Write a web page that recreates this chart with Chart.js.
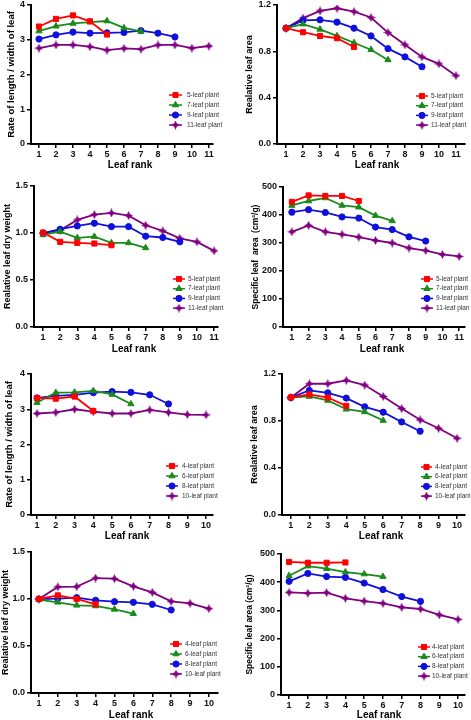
<!DOCTYPE html>
<html>
<head>
<meta charset="utf-8">
<script src="https://cdn.jsdelivr.net/npm/chart.js@4.4.0/dist/chart.umd.min.js"></script>
<style>
	html, body { margin: 0; padding: 0; background: #fff; width: 471px; height: 720px; overflow: hidden; }
	canvas { position: absolute; }
</style>
</head>
<body>
<script>
var ranksA = [1, 2, 3, 4, 5, 6, 7, 8, 9, 10, 11];
var ranksB = [1, 2, 3, 4, 5, 6, 7, 8, 9, 10];
var plantsA = ['5-leaf plant', '7-leaf plant', '9-leaf plant', '11-leaf plant'];
var plantsB = ['4-leaf plant', '6-leaf plant', '8-leaf plant', '10-leaf plant'];

var ratioTicks = [0, 1, 2, 3, 4];
var areaTicks = [0, 0.4, 0.8, 1.2];
var weightTicks = [0, 0.5, 1.0, 1.5];
var slaTicks = [0, 100, 200, 300, 400, 500];

// length/width ratio
var ratioA5 = [3.38, 3.60, 3.70, 3.53, 3.15];
var ratioA7 = [3.25, 3.39, 3.47, 3.51, 3.54, 3.34, 3.24];
var ratioA9 = [3.02, 3.14, 3.22, 3.19, 3.20, 3.21, 3.26, 3.19, 3.08];
var ratioA11 = [2.76, 2.85, 2.85, 2.80, 2.70, 2.75, 2.73, 2.85, 2.85, 2.76, 2.82];
var ratioB4 = [3.32, 3.30, 3.36, 2.95];
var ratioB6 = [3.19, 3.47, 3.48, 3.52, 3.42, 3.15];
var ratioB8 = [3.32, 3.38, 3.41, 3.47, 3.50, 3.48, 3.41, 3.15];
var ratioB10 = [2.88, 2.91, 3.00, 2.93, 2.88, 2.88, 2.98, 2.91, 2.85, 2.84];

// relative leaf area
var areaA5 = [1.00, 0.965, 0.933, 0.913, 0.837];
var areaA7 = [1.00, 1.035, 0.99, 0.933, 0.874, 0.814, 0.726];
var areaA9 = [1.00, 1.067, 1.072, 1.052, 1.00, 0.933, 0.823, 0.752, 0.667];
var areaA11 = [1.00, 1.087, 1.149, 1.172, 1.143, 1.092, 0.962, 0.857, 0.752, 0.692, 0.59];
var areaB4 = [1.00, 1.026, 1.00, 0.929];
var areaB6 = [1.00, 1.009, 0.975, 0.90, 0.878, 0.804];
var areaB8 = [1.00, 1.06, 1.04, 0.995, 0.921, 0.875, 0.792, 0.713];
var areaB10 = [1.00, 1.117, 1.117, 1.146, 1.106, 1.009, 0.906, 0.81, 0.738, 0.653];

// relative leaf dry weight
var weightA5 = [1.005, 0.906, 0.895, 0.888, 0.87];
var weightA7 = [0.983, 1.015, 0.948, 0.962, 0.895, 0.895, 0.842];
var weightA9 = [0.998, 1.04, 1.075, 1.104, 1.068, 1.068, 0.966, 0.952, 0.906];
var weightA11 = [0.998, 1.03, 1.139, 1.196, 1.213, 1.185, 1.082, 1.022, 0.944, 0.906, 0.81];
var weightB4 = [1.00, 1.039, 1.00, 0.943];
var weightB6 = [0.993, 0.965, 0.933, 0.926, 0.89, 0.844];
var weightB8 = [1.00, 1.004, 1.014, 0.986, 0.972, 0.965, 0.943, 0.883];
var weightB10 = [1.00, 1.128, 1.131, 1.223, 1.216, 1.135, 1.071, 0.975, 0.954, 0.897];

// specific leaf area
var slaA5 = [447, 470, 468, 468, 450];
var slaA7 = [434, 450, 461, 434, 428, 398, 379];
var slaA9 = [410, 419, 409, 393, 389, 357, 348, 322, 307];
var slaA11 = [340, 363, 340, 331, 321, 309, 300, 282, 273, 259, 252];
var slaB4 = [472, 469, 469, 470];
var slaB6 = [423, 457, 448, 436, 429, 420];
var slaB8 = [403, 431, 420, 417, 397, 374, 349, 332];
var slaB10 = [364, 361, 363, 343, 333, 325, 311, 305, 284, 268];

var FONT = '"Liberation Sans", Arial, sans-serif';
var colors = ['#ff0000', '#1a8a1a', '#1010dc', '#800080'];

function starMarker(color){
	var c = document.createElement('canvas');
	c.width = 9; c.height = 9;
	var ctx = c.getContext('2d');
	ctx.fillStyle = color;
	ctx.beginPath();
	ctx.moveTo(4.5, 0); ctx.lineTo(6, 3); ctx.lineTo(9, 4.5); ctx.lineTo(6, 6);
	ctx.lineTo(4.5, 9); ctx.lineTo(3, 6); ctx.lineTo(0, 4.5); ctx.lineTo(3, 3);
	ctx.closePath();
	ctx.fill();
	return c;
}

var styles = ['rect', 'triangle', 'circle', starMarker(colors[3])];
var radii = [3.6, 3.6, 3.1, 3];

// page geometry of every panel: canvas corner, plot box, x range, title and legend spots
var panels = [
	{ left: 0, top: 0, box: [31, 213, 3, 144], x: [0.53, 11.24], ranks: ranksA, names: plantsA, series: [ratioA5, ratioA7, ratioA9, ratioA11],
		yTicks: ratioTicks, digits: 0, yTitle: 'Rate of length / width of leaf', yFont: 9.5, yPad: 5.3, xTitle: [130, 165], legend: [169, 182, 187, 95, 10] },
	{ left: 235, top: 0, box: [277, 465, 3, 144], x: [0.47, 11.53], ranks: ranksA, names: plantsA, series: [areaA5, areaA7, areaA9, areaA11],
		yTicks: areaTicks, digits: 1, yTitle: 'Realative leaf area', yFont: 9, yPad: 9.6, xTitle: [377, 165], legend: [416, 428, 431, 96, 9.7] },
	{ left: 0, top: 180, box: [34, 218, 186, 327], x: [0.47, 11.23], ranks: ranksA, names: plantsA, series: [weightA5, weightA7, weightA9, weightA11],
		yTicks: weightTicks, digits: 1, yTitle: 'Realative leaf dry weight', yFont: 9, yPad: 2.6, xTitle: [134, 349], legend: [173, 185, 188, 279, 9.7] },
	{ left: 235, top: 180, box: [283, 468, 187, 327], x: [0.47, 11.35], ranks: ranksA, names: plantsA, series: [slaA5, slaA7, slaA9, slaA11],
		yTicks: slaTicks, digits: 0, yTitle: 'Specific leaf  area  (cm\u00b2/g)', yFont: 8.5, yPad: 15.9, xTitle: [382, 349], legend: [421, 433, 436, 279, 9.7] },
	{ left: 0, top: 360, box: [31, 213, 374, 515], x: [0.68, 10.37], ranks: ranksB, names: plantsB, series: [ratioB4, ratioB6, ratioB8, ratioB10],
		yTicks: ratioTicks, digits: 0, yTitle: 'Rate of length / width of leaf', yFont: 9.5, yPad: 3.3, xTitle: [127, 536], legend: [166, 178, 182, 466, 10] },
	{ left: 235, top: 360, box: [282, 468, 374, 515], x: [0.52, 10.43], ranks: ranksB, names: plantsB, series: [areaB4, areaB6, areaB8, areaB10],
		yTicks: areaTicks, digits: 1, yTitle: 'Realative leaf area', yFont: 9, yPad: 14.6, xTitle: [381, 536], legend: [421, 432, 435, 467, 9.7] },
	{ left: 0, top: 540, box: [31, 218, 552, 693], x: [0.58, 10.48], ranks: ranksB, names: plantsB, series: [weightB4, weightB6, weightB8, weightB10],
		yTicks: weightTicks, digits: 1, yTitle: 'Realative leaf dry weight', yFont: 9, yPad: 0, xTitle: [131, 715], legend: [170, 182, 185, 644, 10] },
	{ left: 235, top: 540, box: [281, 465, 554, 695], x: [0.57, 10.37], ranks: ranksB, names: plantsB, series: [slaB4, slaB6, slaB8, slaB10],
		yTicks: slaTicks, digits: 0, yTitle: 'Specific leaf area (cm\u00b2/g)', yFont: 8.5, yPad: 9.9, xTitle: [379, 715], legend: [418, 430, 432, 647, 9.7] }
];

var W = 235, H = 200;

function makeOverlay(p){
	return {
		id: 'overlay',
		afterDraw: function(chart){
			var ctx = chart.ctx;
			var lg = p.legend;
			ctx.save();
			ctx.font = 'bold 10px ' + FONT;
			ctx.fillStyle = '#000';
			ctx.textAlign = 'center';
			ctx.textBaseline = 'middle';
			ctx.fillText('Leaf rank', p.xTitle[0] - p.left, p.xTitle[1] - p.top);

			chart.data.datasets.forEach(function(ds, i){
				var y = lg[3] + i * lg[4] - p.top;
				ctx.strokeStyle = ds.borderColor;
				ctx.fillStyle = ds.borderColor;
				ctx.lineWidth = 1.5;
				ctx.beginPath();
				ctx.moveTo(lg[0] - p.left, y);
				ctx.lineTo(lg[1] - p.left, y);
				ctx.stroke();
				ctx.lineWidth = 1;
				Chart.helpers.drawPoint(ctx, { pointStyle: ds.pointStyle, radius: ds.pointRadius, borderWidth: 1, rotation: 0 }, (lg[0] + lg[1]) / 2 - p.left, y);
				ctx.fillStyle = '#333';
				ctx.font = '6.5px ' + FONT;
				ctx.textAlign = 'left';
				ctx.fillText(ds.label, lg[2] - p.left, y);
			});
			ctx.restore();
		}
	};
}

function makeChart(p){
	var canvas = document.createElement('canvas');
	canvas.width = W;
	canvas.height = H;
	canvas.style.left = p.left + 'px';
	canvas.style.top = p.top + 'px';
	document.body.appendChild(canvas);

	var relLeft = p.box[0] - p.left, relRight = p.box[1] - p.left;
	var relTop = p.box[2] - p.top, relBottom = p.box[3] - p.top;

	var datasets = p.series.map(function(values, i){
		return {
			label: p.names[i],
			data: values.map(function(v, k){ return { x: p.ranks[k], y: v }; }),
			borderColor: colors[i],
			backgroundColor: colors[i],
			pointBackgroundColor: colors[i],
			pointBorderColor: colors[i],
			pointStyle: styles[i],
			pointRadius: radii[i],
			pointBorderWidth: 1,
			borderWidth: 1.8,
			tension: 0
		};
	});

	var axisFont = { family: FONT, size: 9, weight: 'bold' };

	return new Chart(canvas, {
		type: 'line',
		data: { datasets: datasets },
		plugins: [makeOverlay(p)],
		options: {
			responsive: false,
			animation: false,
			devicePixelRatio: 1,
			layout: { padding: { left: 0, top: relTop, right: W - relRight, bottom: 0 } },
			plugins: { legend: { display: false }, tooltip: { enabled: false } },
			scales: {
				x: {
					type: 'linear',
					min: p.x[0],
					max: p.x[1],
					afterBuildTicks: function(scale){
						scale.ticks = p.ranks.map(function(v){ return { value: v }; });
					},
					afterFit: function(scale){
						scale.height = H - relBottom;
						scale.paddingLeft = 0;
						scale.paddingRight = 0;
					},
					ticks: { autoSkip: false, maxRotation: 0, padding: 1, color: '#111', font: axisFont },
					grid: { drawOnChartArea: false, drawTicks: true, tickLength: 4, color: '#000', lineWidth: 1.5 },
					border: { display: true, color: '#000', width: 2 }
				},
				y: {
					type: 'linear',
					min: p.yTicks[0],
					max: p.yTicks[p.yTicks.length - 1],
					afterBuildTicks: function(scale){
						scale.ticks = p.yTicks.map(function(v){ return { value: v }; });
					},
					afterFit: function(scale){
						scale.width = relLeft;
						scale.paddingTop = 0;
						scale.paddingBottom = 0;
					},
					ticks: {
						padding: 2, color: '#111', font: axisFont,
						callback: function(v){ return Number(v).toFixed(p.digits); }
					},
					grid: { drawOnChartArea: false, drawTicks: true, tickLength: 4, color: '#000', lineWidth: 1.5 },
					border: { display: true, color: '#000', width: 2 },
					title: {
						display: true,
						text: p.yTitle,
						color: '#000',
						font: { family: FONT, size: p.yFont, weight: 'bold' },
						padding: { top: p.yPad, bottom: 0 }
					}
				}
			}
		}
	});
}

panels.forEach(makeChart);
</script>
</body>
</html>
